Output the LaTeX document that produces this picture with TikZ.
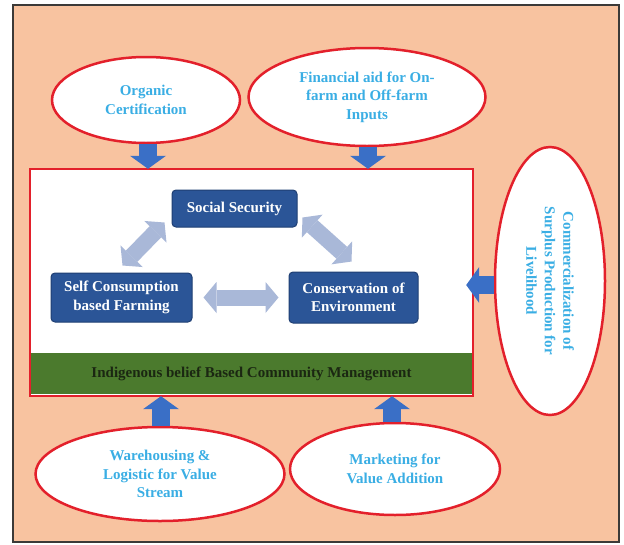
\documentclass[tikz,border=0pt]{standalone}
\usepackage{fontspec}
\setmainfont{Liberation Serif}
\usetikzlibrary{arrows.meta,shapes.geometric,calc}

\definecolor{peach}{HTML}{F8C3A0}
\definecolor{framegray}{HTML}{3C3A38}
\definecolor{ringred}{HTML}{E3202B}
\definecolor{navybox}{HTML}{2B5597}
\definecolor{navyedge}{HTML}{1F3F73}
\definecolor{palearrow}{HTML}{A9B8D8}
\definecolor{flowblue}{HTML}{3A6FC6}
\definecolor{bandgreen}{HTML}{4B7A2D}
\definecolor{banddark}{HTML}{1B2712}
\definecolor{skytext}{HTML}{3AAEE4}

\begin{document}
\begin{tikzpicture}[x=1pt,y=-1pt,
  every node/.style={font=\bfseries\fontsize{15}{18.5}\selectfont, inner sep=0pt},
  ell/.style={ellipse, draw=ringred, line width=2.5pt, fill=white,
              text=skytext, align=center},
  navy/.style={rectangle, rounded corners=4pt, draw=navyedge, line width=1pt,
               fill=navybox, text=white, align=center},
  flow/.style={draw=flowblue, line width=18pt,
               -{Triangle[width=36pt,length=13pt,line width=0pt]}},
  twoway/.style={draw=palearrow, line width=16pt,
                 {Triangle[width=31pt,length=13pt,line width=0pt]}-{Triangle[width=31pt,length=13pt,line width=0pt]}}
]
\useasboundingbox (0,0) rectangle (624,544);

% outer panel
\draw[fill=peach, draw=framegray, line width=1.5pt] (13,5) rectangle (619,542);

% central block with the community management band
\node[fill=white, minimum width=443pt, minimum height=227pt] (box) at (251.5,282.5) {};
\node[fill=bandgreen, text=banddark, minimum width=441pt, minimum height=41pt,
      anchor=south] (band) at ($(box.south)+(0,-2)$)
      {Indigenous belief Based Community Management};
\draw[ringred, line width=2pt] (box.north west) rectangle (box.south east);

% core elements
\node[navy, minimum width=125pt, minimum height=37pt] (soc) at (234.5,208.5) {Social Security};
\node[navy, minimum width=141pt, minimum height=49pt] (self) at (121.5,297.5) {Self Consumption\\based Farming};
\node[navy, minimum width=129pt, minimum height=51pt] (cons) at (353.5,297.5) {Conservation of\\Environment};

\draw[twoway] ($(self.north)+(1,-7)$) -- ($(soc.south west)+(-7,-5)$);
\draw[twoway] ($(soc.south east)+(5,-10)$) -- ($(cons.north)+(-2,-10)$);
\draw[twoway] ($(self.east)+(11,0)$) -- ($(cons.west)+(-10,0)$);

% supporting inputs
\node[ell, minimum width=188pt, minimum height=86pt] (org) at (146,100) {Organic\\Certification};
\node[ell, minimum width=237pt, minimum height=98pt] (fin) at (367,97) {Financial aid for On-\\farm and Off-farm\\Inputs};
\node[ell, rotate=-90, minimum width=268pt, minimum height=110pt] (com) at (550,281)
      {Commercialization of\\Surplus Production for\\Livelihood};
\node[ell, minimum width=249pt, minimum height=94pt] (ware) at (160,474) {Warehousing \&\\Logistic for Value\\Stream};
\node[ell, minimum width=210pt, minimum height=92pt] (mkt) at (395,469) {Marketing for\\Value Addition};

% flows into the central block
\draw[flow] ($(org.south)+(2,0)$) -- ($(org.south |- box.north)+(2,0)$);
\draw[flow] ($(fin.south)+(1,0)$) -- ($(fin.south |- box.north)+(1,0)$);
\draw[flow] ($(com.south)+(0,4)$) -- ($(com.south -| box.east)+(-7,4)$);
\draw[flow] ($(ware.north)+(1,0)$) -- ($(ware.north |- box.south)+(1,0)$);
\draw[flow] ($(mkt.north)+(-3,0)$) -- ($(mkt.north |- box.south)+(-3,0)$);
\end{tikzpicture}
\end{document}
